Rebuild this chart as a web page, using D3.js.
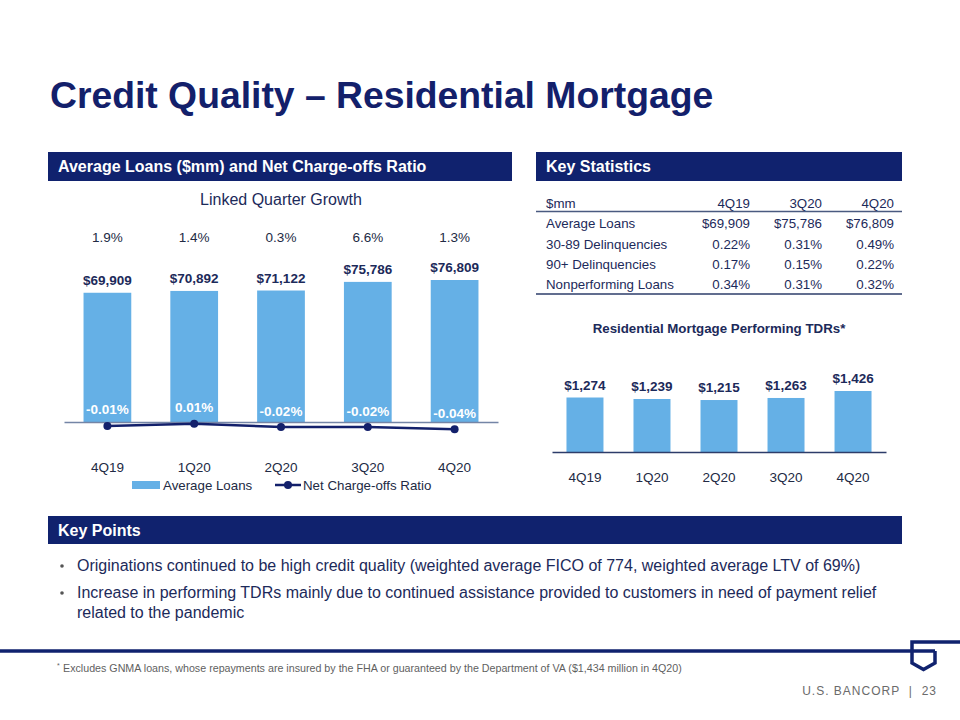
<!DOCTYPE html>
<html>
<head>
<meta charset="utf-8">
<script src="https://cdn.jsdelivr.net/npm/d3@7"></script>
<style>
  html, body { margin: 0; padding: 0; background: #ffffff; }
  svg { display: block; font-family: "Liberation Sans", Arial, sans-serif; }
</style>
</head>
<body>
<svg id="chart" width="960" height="720"></svg>
<script>
// ---------------- DATA ----------------
const quarters = ["4Q19", "1Q20", "2Q20", "3Q20", "4Q20"];
const avgLoans = [69909, 70892, 71122, 75786, 76809];
const nco = [-0.01, 0.01, -0.02, -0.02, -0.04];
const growth = ["1.9%", "1.4%", "0.3%", "6.6%", "1.3%"];
const tdrs = [1274, 1239, 1215, 1263, 1426];

const tableHeader = ["$mm", "4Q19", "3Q20", "4Q20"];
const tableRowLabels = ["Average Loans", "30-89 Delinquencies", "90+ Delinquencies", "Nonperforming Loans"];
const tableCol4Q19 = ["$69,909", "0.22%", "0.17%", "0.34%"];
const tableCol3Q20 = ["$75,786", "0.31%", "0.15%", "0.31%"];
const tableCol4Q20 = ["$76,809", "0.49%", "0.22%", "0.32%"];

const keyPoints = [
  ["Originations continued to be high credit quality (weighted average FICO of 774, weighted average LTV of 69%)"],
  ["Increase in performing TDRs mainly due to continued assistance provided to customers in need of payment relief", "related to the pandemic"]
];

// ---------------- STYLE ----------------
const NAVY = "#10226e";
const TEXT = "#1c2a5a";
const BAR = "#65b0e6";
const GRAY = "#5f5f5f";

const svg = d3.select("#chart");
const fmtMoney = d => "$" + d3.format(",")(d);
const fmtPct = d => (d < 0 ? "-" : "") + Math.abs(d).toFixed(2) + "%";

// Title
svg.append("text").attr("x", 50).attr("y", 108)
  .attr("font-size", 37.3).attr("font-weight", "bold").attr("fill", "#13206b")
  .text("Credit Quality – Residential Mortgage");

// Section header bars
function header(x, y, w, h, label) {
  svg.append("rect").attr("x", x).attr("y", y).attr("width", w).attr("height", h).attr("fill", NAVY);
  svg.append("text").attr("x", x + 10).attr("y", y + h / 2 + 5.5)
    .attr("font-size", 16).attr("font-weight", "bold").attr("fill", "#ffffff").text(label);
}
header(48, 152, 464, 29, "Average Loans ($mm) and Net Charge-offs Ratio");
header(536, 152, 366, 29, "Key Statistics");
header(48, 516, 854, 28, "Key Points");

// ---------------- LEFT CHART ----------------
const x1 = d3.scaleBand().domain(quarters).range([64, 498]).paddingInner(0.45).paddingOuter(0.225);
const y1 = d3.scaleLinear().domain([0, 80000]).range([422, 422 - 80000 * 142 / 76809]);
const yr = d3.scaleLinear().domain([-0.04, 0.01]).range([429.3, 423.7]);

svg.append("text").attr("x", 281).attr("y", 205).attr("text-anchor", "middle")
  .attr("font-size", 16).attr("fill", TEXT).text("Linked Quarter Growth");

svg.append("g").selectAll("text").data(growth).join("text")
  .attr("x", (d, i) => x1(quarters[i]) + x1.bandwidth() / 2)
  .attr("y", 242).attr("text-anchor", "middle")
  .attr("font-size", 13.5).attr("fill", "#222a44").text(d => d);

svg.append("g").selectAll("rect").data(avgLoans).join("rect")
  .attr("x", (d, i) => x1(quarters[i]))
  .attr("y", d => y1(d))
  .attr("width", x1.bandwidth())
  .attr("height", d => y1(0) - y1(d))
  .attr("fill", BAR);

svg.append("g").selectAll("text").data(avgLoans).join("text")
  .attr("x", (d, i) => x1(quarters[i]) + x1.bandwidth() / 2)
  .attr("y", d => y1(d) - 8).attr("text-anchor", "middle")
  .attr("font-size", 13.5).attr("font-weight", "bold").attr("fill", TEXT)
  .text(fmtMoney);

// axis line + labels
const ax1 = svg.append("g").attr("transform", `translate(0,${y1(0)})`)
  .call(d3.axisBottom(x1).tickSize(0).tickPadding(0));
ax1.select(".domain").attr("stroke", "#7485a6").attr("stroke-width", 1.5);
ax1.selectAll(".tick text").attr("y", 40).attr("font-size", 13.5)
  .attr("font-family", "Liberation Sans, Arial, sans-serif").attr("fill", "#222a44");

// NCO line
const line = d3.line().x((d, i) => x1(quarters[i]) + x1.bandwidth() / 2).y(d => yr(d));
svg.append("path").datum(nco).attr("d", line).attr("fill", "none")
  .attr("stroke", "#13206b").attr("stroke-width", 2.5);
svg.append("g").selectAll("circle").data(nco).join("circle")
  .attr("cx", (d, i) => x1(quarters[i]) + x1.bandwidth() / 2)
  .attr("cy", d => yr(d)).attr("r", 4).attr("fill", "#13206b");
svg.append("g").selectAll("text").data(nco).join("text")
  .attr("x", (d, i) => x1(quarters[i]) + x1.bandwidth() / 2)
  .attr("y", d => yr(d) - 11.5).attr("text-anchor", "middle")
  .attr("font-size", 13.5).attr("font-weight", "bold").attr("fill", "#ffffff")
  .text(fmtPct);

// legend
svg.append("rect").attr("x", 132).attr("y", 481).attr("width", 28).attr("height", 8).attr("fill", BAR);
svg.append("text").attr("x", 163).attr("y", 489.5).attr("font-size", 13.3).attr("fill", "#222a44").text("Average Loans");
svg.append("line").attr("x1", 275).attr("x2", 301).attr("y1", 485).attr("y2", 485)
  .attr("stroke", "#13206b").attr("stroke-width", 2.5);
svg.append("circle").attr("cx", 288).attr("cy", 485).attr("r", 4).attr("fill", "#13206b");
svg.append("text").attr("x", 303).attr("y", 489.5).attr("font-size", 13.3).attr("fill", "#222a44").text("Net Charge-offs Ratio");

// ---------------- TABLE ----------------
const colRight = [750, 822, 894];
const rowY = [228, 248.5, 269, 289];
const tg = svg.append("g").attr("font-size", 13.3).attr("fill", TEXT);
tg.append("text").attr("x", 546).attr("y", 208).text(tableHeader[0]);
tableHeader.slice(1).forEach((h, j) => {
  tg.append("text").attr("x", colRight[j]).attr("y", 208).attr("text-anchor", "end").text(h);
});
svg.append("line").attr("x1", 536).attr("x2", 902).attr("y1", 211.5).attr("y2", 211.5)
  .attr("stroke", "#4a5a80").attr("stroke-width", 1.3);
const cols = [tableCol4Q19, tableCol3Q20, tableCol4Q20];
tableRowLabels.forEach((lab, i) => {
  tg.append("text").attr("x", 546).attr("y", rowY[i]).text(lab);
  cols.forEach((c, j) => {
    tg.append("text").attr("x", colRight[j]).attr("y", rowY[i]).attr("text-anchor", "end").text(c[i]);
  });
});
svg.append("line").attr("x1", 536).attr("x2", 902).attr("y1", 294).attr("y2", 294)
  .attr("stroke", "#2d3c6a").attr("stroke-width", 1.6);

// ---------------- TDR CHART ----------------
svg.append("text").attr("x", 719).attr("y", 333).attr("text-anchor", "middle")
  .attr("font-size", 13.3).attr("font-weight", "bold").attr("fill", TEXT)
  .text("Residential Mortgage Performing TDRs*");

const x2 = d3.scaleBand().domain(quarters).range([552, 886]).paddingInner(0.448).paddingOuter(0.216);
const y2 = d3.scaleLinear().domain([0, 1500]).range([452, 452 - 1500 * 61 / 1426]);

svg.append("g").selectAll("rect").data(tdrs).join("rect")
  .attr("x", (d, i) => x2(quarters[i]))
  .attr("y", d => y2(d))
  .attr("width", x2.bandwidth())
  .attr("height", d => y2(0) - y2(d))
  .attr("fill", BAR);
svg.append("g").selectAll("text").data(tdrs).join("text")
  .attr("x", (d, i) => x2(quarters[i]) + x2.bandwidth() / 2)
  .attr("y", d => y2(d) - 8).attr("text-anchor", "middle")
  .attr("font-size", 13.5).attr("font-weight", "bold").attr("fill", TEXT)
  .text(fmtMoney);
const ax2 = svg.append("g").attr("transform", `translate(0,${y2(0)})`)
  .call(d3.axisBottom(x2).tickSize(0).tickPadding(0));
ax2.select(".domain").attr("stroke", "#2d3c6a").attr("stroke-width", 1.5);
ax2.selectAll(".tick text").attr("y", 20).attr("font-size", 13.5)
  .attr("font-family", "Liberation Sans, Arial, sans-serif").attr("fill", "#222a44");

// ---------------- KEY POINTS ----------------
const kpY = [[571], [598, 618]];
keyPoints.forEach((lines, i) => {
  svg.append("circle").attr("cx", 62).attr("cy", kpY[i][0] - 5).attr("r", 1.8).attr("fill", "#555");
  lines.forEach((t, k) => {
    svg.append("text").attr("x", 77).attr("y", kpY[i][k]).attr("font-size", 16).attr("fill", TEXT).text(t);
  });
});

// ---------------- FOOTER ----------------
svg.append("line").attr("x1", 0).attr("x2", 935).attr("y1", 651).attr("y2", 651)
  .attr("stroke", NAVY).attr("stroke-width", 3.5);
svg.append("path")
  .attr("d", "M960,642 L912,642 L912,663 L923.5,669.5 L935,663 L935,651")
  .attr("fill", "none").attr("stroke", NAVY).attr("stroke-width", 3.5).attr("stroke-linejoin", "miter");

svg.append("text").attr("x", 57).attr("y", 668).attr("font-size", 7).attr("fill", GRAY).text("*");
svg.append("text").attr("x", 63).attr("y", 672).attr("font-size", 10.7).attr("fill", GRAY)
  .text("Excludes GNMA loans, whose repayments are insured by the FHA or guaranteed by the Department of VA ($1,434 million in 4Q20)");

svg.append("text").attr("x", 937).attr("y", 695).attr("text-anchor", "end")
  .attr("font-size", 12).attr("letter-spacing", "1px").attr("fill", "#6b6b6b")
  .text("U.S. BANCORP\u00a0\u00a0|\u00a0\u00a023");
</script>
</body>
</html>
